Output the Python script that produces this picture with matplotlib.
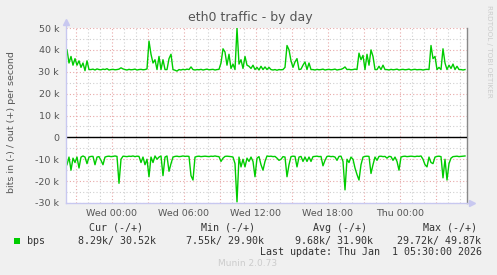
import numpy as np
import matplotlib
matplotlib.use("Agg")
import matplotlib.pyplot as plt
from matplotlib.ticker import FixedLocator, MultipleLocator, NullFormatter

# ---- data (k bits/s), one sample every 10 minutes ----
out_k = [
    40, 34, 37, 33, 36, 33, 35, 32, 34, 30.5,
    35, 31, 31, 31.2, 30.8, 31.3, 31, 30.9, 31.2, 31,
    31.4, 30.8, 31, 31.1, 30.9, 31, 31.2, 31.8, 31.3, 31,
    30.8, 31.1, 30.9, 31, 31.2, 30.8, 31, 31.1, 30.9, 31,
    31.3, 44, 38, 34, 35.5, 31, 37, 31, 35.5, 31,
    31, 36, 38, 31, 30.7, 30.3, 31, 30.8, 31.1, 30.9,
    31.2, 31, 32.2, 31, 30.8, 31, 30.9, 31.1, 30.8, 31,
    31.2, 30.9, 31, 31.1, 30.8, 31, 31.1, 34, 40.5, 39,
    33, 38, 31.5, 33.5, 31, 49.9, 33.5, 35.5, 31.5, 37,
    33, 32.5, 31.5, 33, 31, 32, 30.8, 32.5, 31, 32.2,
    31, 32, 31, 30.8, 31, 30.7, 31, 30.9, 31, 32,
    42, 40, 35, 32, 34.5, 36, 31, 31.2, 33, 34.5,
    31, 34, 31, 31, 30.8, 31.1, 30.9, 31, 31.2, 30.8,
    31, 31.1, 30.9, 31, 31.2, 30.8, 31, 31.1, 31.5, 32.2,
    31, 31.1, 30.9, 31, 31.2, 31, 38.5, 35.5, 37.5, 31,
    38, 33, 40, 37, 31, 31, 32.5, 31, 33, 31,
    31, 30.8, 31.1, 30.9, 31, 31.2, 30.8, 31, 31.1, 30.9,
    31, 31.2, 30.8, 31, 31.1, 30.9, 31, 31, 30.8, 31,
    31.1, 31, 42, 36, 37, 31, 32, 31, 40.5, 34,
    31, 33, 31.5, 33.5, 31, 32.5, 31, 31, 30.8, 31,
]
in_k = [
    -12.5, -9, -15, -9.5, -11.5, -9, -14, -9, -8.5, -9,
    -12, -9, -8.7, -8.7, -12.5, -9, -8.8, -10.5, -12.5, -9,
    -8.7, -8.6, -8.8, -8.7, -8.5, -8.7, -21, -10, -8.6, -8.7,
    -8.8, -8.6, -8.7, -8.5, -8.8, -8.6, -8.7, -11.5, -9, -12.5,
    -10, -18, -9, -11.5, -8.5, -10, -9, -8.5, -17.5, -9,
    -8.5, -15.5, -12, -9, -8.7, -8.6, -8.8, -8.7, -8.5, -8.7,
    -8.6, -8.7, -17.5, -19.5, -9, -8.7, -8.6, -8.8, -8.7, -8.6,
    -8.7, -8.8, -8.6, -8.7, -8.5, -8.7, -8.8, -11, -9.5, -8.7,
    -8.6, -8.7, -8.8, -9, -12, -29.5, -9, -13.5, -10, -13.5,
    -9.5, -11, -9, -11, -18, -9.5, -8.8, -12.5, -15, -11,
    -8.5, -8.7, -8.6, -8.8, -8.7, -9.5, -10.5, -10, -8.8, -9,
    -18, -12.5, -8.8, -8.6, -8.7, -13.5, -9, -8.7, -11, -9,
    -11, -9, -11, -8.8, -8.7, -8.6, -8.8, -8.7, -13, -10.5,
    -8.7, -8.6, -8.8, -8.7, -9, -10.5, -8.7, -8.6, -11, -24,
    -10, -11.5, -9, -10, -14, -17, -19.5, -12.5, -9, -8.7,
    -8.6, -8.7, -16.5, -12.5, -9, -10.5, -8.7, -8.6, -8.8, -8.7,
    -9.5, -8.7, -8.8, -10.5, -9, -11, -15, -9, -8.7, -8.6,
    -8.8, -8.7, -8.6, -8.7, -8.8, -8.6, -8.7, -8.5, -10, -12.5,
    -13.5, -9, -11.5, -12, -9, -8.7, -8.6, -8.8, -18.5, -10,
    -19.5, -12, -9.5, -8.8, -8.7, -8.6, -8.8, -8.7, -8.6, -8.5,
]
step_min = 10
start_min = -225          # first sample, minutes relative to Wed 00:00
x_range_min = (-230, 1775)

x_tick_hours = [0, 6, 12, 18, 24]
x_tick_labels = ["Wed 00:00", "Wed 06:00", "Wed 12:00", "Wed 18:00", "Thu 00:00"]
y_ticks = [-30000, -20000, -10000, 0, 10000, 20000, 30000, 40000, 50000]
y_tick_labels = ["-30 k", "-20 k", "-10 k", "0", "10 k", "20 k", "30 k", "40 k", "50 k"]

title = "eth0 traffic - by day"
ylabel = "bits in (-) / out (+) per second"
series_name = "bps"
legend_headers = ["Cur (-/+)", "Min (-/+)", "Avg (-/+)", "Max (-/+)"]
legend_values = ["8.29k/ 30.52k", "7.55k/ 29.90k", "9.68k/ 31.90k", "29.72k/ 49.87k"]
last_update = "Last update: Thu Jan  1 05:30:00 2026"
footer = "Munin 2.0.73"
side_text = "RRDTOOL / TOBI OETIKER"

# ---- figure ----
W, H = 497, 275
BG = "#F0F0F0"
GREEN = "#00CC00"
TXT = "#555555"
fig = plt.figure(figsize=(W / 100, H / 100), dpi=100, facecolor=BG)

L, R, T, B = 66, 467, 28, 203
ax = fig.add_axes([L / W, 1 - B / H, (R - L) / W, (B - T) / H])
ax.set_facecolor("white")

n = min(len(out_k), len(in_k))
t = (start_min + step_min * np.arange(n)) / 60.0
ax.plot(t, np.array(out_k[:n]) * 1000, color=GREEN, lw=1.0, zorder=3)
ax.plot(t, np.array(in_k[:n]) * 1000, color=GREEN, lw=1.0, zorder=3)
ax.axhline(0, color="black", lw=1.0, zorder=4)

ax.set_xlim(x_range_min[0] / 60, x_range_min[1] / 60)
ax.set_ylim(-30000, 50000)

# x grid: major every 3 h, minor every hour, labels every 6 h
lab = dict(zip(x_tick_hours, x_tick_labels))
majors = [h for h in range(-3, 30, 3)]
ax.xaxis.set_major_locator(FixedLocator(majors))
ax.set_xticklabels([lab.get(h, "") for h in majors])
ax.xaxis.set_minor_locator(MultipleLocator(1))
ax.set_yticks(y_ticks)
ax.set_yticklabels(y_tick_labels)
ax.yaxis.set_minor_locator(MultipleLocator(5000))

ax.grid(which="major", color="#E8A8A8", linestyle=(0, (1, 2)), lw=0.8)
ax.grid(which="minor", color="#CFCFCF", linestyle=(0, (1, 2)), lw=0.8)
ax.set_axisbelow(True)

ax.tick_params(which="both", length=0)
ax.tick_params(axis="x", pad=4, labelsize=6.8, labelcolor=TXT)
ax.tick_params(axis="y", pad=5, labelsize=6.8, labelcolor=TXT)

for s in ("top",):
    ax.spines[s].set_visible(False)
ax.spines["right"].set_color("#888888")
ax.spines["right"].set_linewidth(1.0)
ax.spines["left"].set_visible(False)
ax.spines["bottom"].set_visible(False)

# axis lines with arrows
AX_C = "#C8C8F0"
fig.add_artist(plt.Line2D([L / W, L / W], [1 - B / H, 1 - 23 / H], color=AX_C, lw=1))
fig.add_artist(plt.Line2D([L / W, 471 / W], [1 - B / H, 1 - B / H], color=AX_C, lw=1))
fig.add_artist(plt.Line2D([L / W], [1 - 22 / H], marker="^", color=AX_C, markersize=4, lw=0))
fig.add_artist(plt.Line2D([472 / W], [1 - B / H], marker=">", color=AX_C, markersize=4, lw=0))

# texts
fig.text(250 / W, 1 - 17 / H, title, ha="center", va="center", fontsize=9, color=TXT)
fig.text(12 / W, 1 - 122 / H, ylabel, rotation=90, ha="center", va="center", fontsize=6.8, color=TXT)
fig.text(489 / W, 1 - 5 / H, side_text, rotation=270, ha="center", va="top", fontsize=5.2, color="#CCCCCC")

MONO = "DejaVu Sans Mono"
fig.patches.append(plt.Rectangle((14 / W, 1 - 244 / H), 6 / W, 6 / H, transform=fig.transFigure,
                                 facecolor=GREEN, edgecolor="none"))
fig.text(27 / W, 1 - 241 / H, series_name, ha="left", va="center", fontsize=7.2, family=MONO, color="#333333")
header_x = [89, 200.7, 312.7, 423.3]
value_x = [77.7, 185.7, 295, 397.3]
for hx, h in zip(header_x, legend_headers):
    fig.text(hx / W, 1 - 228 / H, h, ha="left", va="center", fontsize=7.2, family=MONO, color="#333333")
for vx, v in zip(value_x, legend_values):
    fig.text(vx / W, 1 - 241 / H, v, ha="left", va="center", fontsize=7.2, family=MONO, color="#333333")
fig.text(482 / W, 1 - 252 / H, last_update, ha="right", va="center", fontsize=7.2, family=MONO, color="#333333")
fig.text(248 / W, 1 - 264 / H, footer, ha="center", va="center", fontsize=6.5, color="#CCCCCC")

fig.savefig("out.png", dpi=100, facecolor=BG)
